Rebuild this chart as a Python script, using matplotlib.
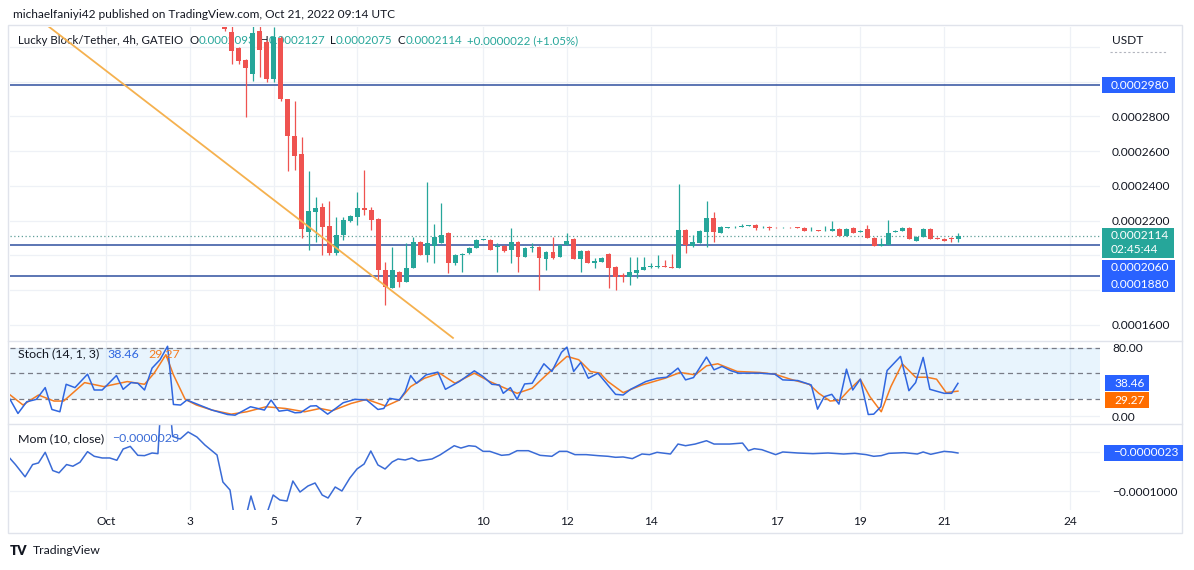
import numpy as np
import matplotlib
matplotlib.use("Agg")
import matplotlib.pyplot as plt
from matplotlib.patches import Rectangle
from matplotlib.lines import Line2D

plt.rcParams['font.family'] = ['Lato', 'DejaVu Sans']

W, H = 1194, 570
SCALE = 1e-7          # prices below are in 1e-7 USDT

# 4h candles, first one opens Oct 3 20:00 UTC (x axis = days after Oct 1 00:00)
CANDLE_START = 2 + 20 / 24
OPEN = [3340, 3285, 3192, 3123, 3042, 3290, 3227, 3013, 3250, 2898,
        2685, 2581, 2136, 2252, 2281, 2171, 2015, 2119, 2200, 2223,
        2275, 2263, 2211, 1917, 1813, 1906, 1848, 1929, 2079, 2004,
        2056, 2073, 2131, 1958, 2004, 2015, 2044, 2090, 2090, 2050,
        2056, 2033, 2079, 1992, 2044, 2050, 1981, 2021, 1992, 2061,
        2096, 1981, 2027, 1958, 1963, 2010, 1934, 1888, 1877, 1900,
        1917, 1932, 1934, 1940, 1934, 1929, 2148, 2056, 2073, 2136,
        2217, 2131, 2160, 2162, 2165, 2171, 2177, 2163, 2165, 2160,
        2159, 2160, 2163, 2160, 2145, 2145, 2145, 2142, 2154, 2113,
        2160, 2136, 2154, 2102, 2056, 2061, 2136, 2142, 2160, 2085,
        2108, 2154, 2102, 2096, 2100, 2093]
HIGH = [3380, 3330, 3200, 3130, 3320, 3330, 3240, 3314, 3260, 2900,
        2887, 2679, 2483, 2333, 2304, 2310, 2223, 2223, 2235, 2367,
        2494, 2281, 2215, 1963, 2050, 1910, 2073, 2108, 2085, 2425,
        2183, 2304, 2136, 2010, 2015, 2050, 2095, 2095, 2095, 2073,
        2060, 2160, 2085, 2050, 2073, 2055, 2025, 2108, 2065, 2131,
        2100, 2030, 2030, 1986, 1990, 2012, 1936, 1900, 1992, 1992,
        1992, 1958, 2004, 1975, 2010, 2413, 2150, 2119, 2145, 2315,
        2252, 2170, 2165, 2167, 2183, 2176, 2180, 2167, 2167, 2162,
        2162, 2162, 2165, 2162, 2165, 2147, 2171, 2200, 2157, 2157,
        2163, 2145, 2177, 2105, 2102, 2206, 2145, 2163, 2163, 2110,
        2157, 2157, 2105, 2100, 2103, 2127]
LOW = [3290, 3100, 3100, 2794, 3002, 3025, 2996, 3000, 2890, 2483,
       2494, 2102, 2033, 2079, 2004, 2004, 2004, 2090, 2190, 2177,
       2235, 2148, 1859, 1715, 1810, 1819, 1845, 1925, 2000, 1963,
       1958, 2070, 1900, 1946, 1906, 2010, 2040, 2088, 2030, 1906,
       2020, 1958, 1906, 1988, 2021, 1802, 1917, 1980, 1988, 2058,
       1978, 1906, 1955, 1929, 1960, 1813, 1802, 1848, 1831, 1871,
       1915, 1929, 1930, 1932, 1927, 1927, 2015, 2050, 2070, 2050,
       2079, 2128, 2158, 2160, 2163, 2168, 2148, 2160, 2148, 2157,
       2157, 2156, 2155, 2140, 2142, 2140, 2142, 2140, 2110, 2110,
       2128, 2134, 2100, 2053, 2053, 2058, 2134, 2140, 2093, 2082,
       2105, 2093, 2093, 2080, 2078, 2075]
CLOSE = [3302, 3175, 3117, 3077, 3279, 3181, 3013, 3256, 2898, 2685,
         2569, 2154, 2258, 2275, 2165, 2015, 2119, 2206, 2225, 2275,
         2263, 2206, 1917, 1819, 1917, 1848, 1929, 2079, 2004, 2073,
         2108, 2119, 1958, 2004, 2010, 2044, 2090, 2092, 2033, 2056,
         2027, 2079, 1992, 2044, 2050, 1986, 2021, 1986, 2061, 2085,
         1981, 2027, 1958, 1969, 1986, 1929, 1877, 1877, 1906, 1917,
         1934, 1936, 1940, 1934, 1929, 2148, 2061, 2079, 2142, 2217,
         2136, 2165, 2162, 2165, 2171, 2173, 2160, 2165, 2158, 2159,
         2160, 2158, 2158, 2142, 2148, 2143, 2148, 2154, 2113, 2154,
         2131, 2142, 2102, 2056, 2067, 2131, 2142, 2160, 2096, 2108,
         2154, 2096, 2096, 2085, 2092, 2114]

LEVELS = [2980, 2060, 1880]            # horizontal lines
TREND_T = [-1.38, 8.28]                # trend line anchors (days, price)
TREND_P = [3319, 1525]

# Stoch (14, 1, 3): %K and %D
K_T = [-2.37, -2.10, -1.89, -1.66, -1.45, -1.29, -1.10, -0.95, -0.74, -0.44,
       -0.28, -0.09, 0.25, 0.41, 0.60, 0.76, 0.92, 1.10, 1.29, 1.47,
       1.61, 1.78, 1.93, 2.53, 2.90, 3.08, 3.45, 3.78, 3.94, 4.13,
       4.33, 4.51, 4.65, 4.88, 5.02, 5.29, 5.48, 5.66, 5.94, 6.22,
       6.49, 6.63, 6.77, 7.00, 7.14, 7.27, 7.41, 7.64, 7.92, 8.10,
       8.43, 8.79, 9.00, 9.21, 9.39, 9.48, 9.65, 9.81, 9.99, 10.17,
       10.45, 10.64, 10.87, 11.00, 11.16, 11.33, 11.51, 11.74, 12.16, 12.34,
       12.52, 12.88, 13.15, 13.38, 13.65, 13.83, 14.02, 14.33, 14.51, 14.70,
       14.92, 15.10, 15.60, 15.96, 16.15, 16.51, 16.83, 16.98, 17.14, 17.32,
       17.49, 17.67, 17.82, 18.00, 18.19, 18.32, 18.49, 18.64, 18.96, 19.16,
       19.32, 19.50, 19.66, 20.00, 20.18, 20.33]
K_V = [26.7, 3.0, 16.8, 19.6, 33.4, 7.7, 5.0, 37.3, 33.4, 49.2,
       30.6, 30.6, 47.6, 31.4, 39.3, 38.5, 30.6, 56.3, 66.2, 82.0,
       13.6, 12.9, 18.8, 7.0, 1.8, 1.0, 10.9, 7.0, 18.8, 5.7,
       7.0, 3.8, 4.2, 11.7, 12.1, 2.2, 8.9, 15.6, 19.6, 18.8,
       7.7, 8.9, 20.8, 18.8, 28.7, 47.6, 38.5, 48.4, 51.6, 31.4,
       40.5, 53.1, 46.4, 37.3, 36.5, 26.7, 33.4, 19.6, 37.7, 38.5,
       61.4, 52.4, 74.9, 81.0, 52.4, 63.0, 44.4, 50.4, 25.5, 24.7,
       31.4, 40.5, 44.4, 45.6, 56.3, 42.5, 45.2, 69.3, 54.3, 58.3,
       53.1, 50.4, 50.4, 49.2, 42.5, 41.7, 36.5, 8.1, 22.7, 25.5,
       14.0, 55.1, 30.6, 43.3, 1.8, 2.2, 10.9, 53.5, 70.1, 29.8,
       39.3, 68.9, 31.4, 26.7, 26.7, 38.46]
D_T = [-2.37, -1.98, -1.61, -1.24, -1.01, -0.51, -0.05, 0.51, 0.92, 1.15,
       1.43, 1.61, 1.89, 2.16, 2.53, 2.99, 3.36, 3.82, 4.28, 4.74,
       5.11, 5.39, 5.85, 6.22, 6.68, 7.00, 7.27, 7.60, 7.96, 8.33,
       8.79, 9.16, 9.53, 9.81, 10.17, 10.64, 11.00, 11.28, 11.56, 11.79,
       11.98, 12.34, 12.79, 13.34, 13.70, 14.06, 14.33, 14.60, 15.06, 15.60,
       15.96, 16.33, 16.78, 17.01, 17.28, 17.51, 17.73, 18.00, 18.23, 18.50,
       18.73, 19.00, 19.32, 19.59, 19.82, 20.05, 20.33]
D_V = [28.0, 13.0, 24.7, 17.6, 17.6, 39.3, 34.6, 40.5, 37.3, 50.4,
       72.1, 48.4, 19.6, 12.9, 7.0, 2.2, 5.0, 10.9, 8.9, 5.0,
       8.9, 6.1, 14.8, 19.6, 11.7, 18.8, 34.6, 44.4, 50.4, 38.5,
       50.4, 40.5, 32.6, 26.7, 32.6, 54.3, 70.1, 66.2, 52.4, 50.4,
       40.5, 27.5, 36.5, 44.4, 51.2, 48.4, 59.0, 61.4, 52.4, 51.2,
       49.2, 43.3, 37.3, 26.7, 17.6, 18.8, 30.6, 43.3, 22.7, 5.0,
       34.6, 61.4, 45.6, 45.6, 43.3, 27.5, 29.27]

# Mom (10, close), 1e-7 USDT; values beyond the panel are estimates
M_T = [-2.37, -2.16, -1.93, -1.75, -1.61, -1.45, -1.27, -1.12, -0.94, -0.79,
       -0.62, -0.44, -0.28, -0.09, 0.09, 0.26, 0.41, 0.58, 0.76, 0.92,
       1.10, 1.24, 1.33, 1.50, 1.59, 1.77, 1.96, 2.17, 2.36, 2.65,
       2.79, 2.96, 3.17, 3.33, 3.46, 3.62, 3.80, 3.99, 4.15, 4.32,
       4.46, 4.63, 4.82, 4.99, 5.16, 5.30, 5.47, 5.63, 5.82, 5.99,
       6.16, 6.32, 6.49, 6.66, 6.83, 6.97, 7.14, 7.30, 7.45, 7.78,
       7.97, 8.31, 8.47, 8.66, 8.82, 9.00, 9.16, 9.44, 9.62, 9.81,
       10.08, 10.36, 10.64, 10.82, 11.00, 11.19, 11.46, 11.74, 11.98, 12.16,
       12.34, 12.56, 12.79, 12.97, 13.15, 13.47, 13.65, 13.83, 14.06, 14.33,
       14.51, 14.88, 15.19, 15.33, 15.47, 15.65, 15.98, 16.15, 16.51, 16.87,
       17.23, 17.60, 17.87, 18.14, 18.32, 18.50, 18.68, 19.05, 19.36, 19.50,
       19.68, 20.00, 20.18, 20.33]
M_V = [-65, -320, -635, -320, -278, -6, -474, -533, -320, -363,
       -261, 11, -108, -151, -151, -210, 79, 147, -83, -91,
       -23, -40, 1600, 1500, 402, 337, 517, 388, 183, -74,
       -768, -974, -2400, -1700, -1128, -1700, -1700, -1103, -1231, -1257,
       -743, -1026, -871, -794, -1103, -1180, -897, -1000, -666, -434,
       -306, 28, -331, -434, -254, -177, -203, -152, -229, -177,
       -74, 164, 104, 164, 147, 19, 19, -83, -65, 36,
       36, -83, -108, 19, 19, -65, -65, -91, -108, -134,
       -125, -168, -49, -65, -6, -49, 207, 164, 207, 292,
       207, 207, 232, 37, 88, 62, -65, 3, -23, -40,
       -23, -49, -32, -65, -108, -91, -32, -15, -49, 3,
       -57, 19, 3, -23]

TICK_T = [0, 2, 4, 6, 9, 11, 13, 16, 18, 20, 23]
TICK_LABELS = ['Oct', '3', '5', '7', '10', '12', '14', '17', '19', '21', '24']
PRICE_TICKS = [1600, 1800, 2000, 2200, 2400, 2600, 2800, 3000, 3200]
PRICE_SHOWN = [1600, 2200, 2400, 2600, 2800]

UP, DOWN = '#26a69a', '#ef5350'
TXT = '#131722'
GRID = '#eef1f6'
BORDER = '#e0e3eb'
TAG_BLUE = '#2962ff'
K_COL, D_COL = '#2f66e0', '#f57c20'
FS = 8.6

fig = plt.figure(figsize=(W / 100, H / 100), dpi=100)
fig.patch.set_facecolor('white')


def rect(x0, y0, x1, y1):
    return [x0 / W, 1 - y1 / H, (x1 - x0) / W, (y1 - y0) / H]


ax = fig.add_axes(rect(10, 27, 1100, 340))
ax_s = fig.add_axes(rect(10, 341, 1100, 423))
ax_m = fig.add_axes(rect(10, 424, 1100, 510))

for a in (ax, ax_s, ax_m):
    a.set_xlim(-2.29, 23.72)
    for sp in a.spines.values():
        sp.set_visible(False)
    a.set_xticks(TICK_T)
    a.grid(True, color=GRID, lw=0.9, zorder=0)
    a.set_axisbelow(True)
    a.yaxis.tick_right()
    a.tick_params(axis='y', length=0, pad=8.6, labelsize=FS, labelcolor=TXT)
    a.tick_params(axis='x', length=0, pad=4, labelsize=FS, labelcolor=TXT)
ax.set_xticklabels([])
ax_s.set_xticklabels([])
ax_m.set_xticklabels(TICK_LABELS)

# ---- price panel
ax.set_ylim(1513 * SCALE, 3314 * SCALE)
ax.set_yticks([p * SCALE for p in PRICE_TICKS])
ax.set_yticklabels([f"{p * SCALE:.7f}" if p in PRICE_SHOWN else '' for p in PRICE_TICKS])

t = CANDLE_START + np.arange(len(CLOSE)) / 6
o, h, l, c = [np.array(v) * SCALE for v in (OPEN, HIGH, LOW, CLOSE)]
cols = np.where(c >= o, UP, DOWN)
ax.vlines(t, l, h, colors=cols, lw=0.9, zorder=3)
ax.bar(t, np.maximum(np.abs(c - o), 0.7 * SCALE), bottom=np.minimum(o, c),
       width=0.7 / 6, color=cols, linewidth=0, zorder=4)

for lv in LEVELS:
    ax.axhline(lv * SCALE, color='#2f4f9f', lw=1.1, zorder=2)
ax.axhline(c[-1], color='#5f9e98', lw=0.9, ls=(0, (1, 2)), zorder=2)
ax.plot(TREND_T, np.array(TREND_P) * SCALE, color='#f5b14f', lw=1.3, zorder=5)

# ---- stoch panel
ax_s.set_ylim(-8.2, 88.2)
ax_s.set_yticks([0, 80])
ax_s.set_yticklabels(['0.00', '80.00'])
ax_s.axhspan(20, 80, color='#2196f3', alpha=0.1, lw=0, zorder=1)
for lv in (80, 50, 20):
    ax_s.axhline(lv, color='#787b86', lw=0.9, ls=(0, (4, 3)), zorder=2)
ax_s.plot(D_T, D_V, color=D_COL, lw=1.1, zorder=3)
ax_s.plot(K_T, K_V, color=K_COL, lw=1.1, zorder=4)

# ---- momentum panel
ax_m.set_ylim(-1488 * SCALE, 722 * SCALE)
ax_m.set_yticks([-1000 * SCALE, 0])
ax_m.set_yticklabels(['\u22120.0001000', ''])
ax_m.plot(M_T, np.array(M_V) * SCALE, color='#3a6bd6', lw=1.1, zorder=3)

renderer = fig.canvas.get_renderer()


def signed(v, digits=7):
    return ('\u2212' if v < 0 else '+') + f"{abs(v):.{digits}f}"


def pieces(x, y, parts, size, holder=None):
    for s, col, gap in parts:
        if holder is None:
            txt = fig.text(x / W, 1 - y / H, s, color=col, fontsize=size, va='center')
        else:
            txt = holder.text(x / W, 1 - y / H, s, color=col, fontsize=size, va='center',
                              transform=fig.transFigure, zorder=1, clip_on=False)
        x += txt.get_window_extent(renderer).width + gap


def tag(a, value, lines, fc, dy=0, x0=1102, min_w=0):
    yc = H - a.transData.transform((0, value))[1] + dy
    widths = []
    for i, s in enumerate(lines):
        txt = fig.text((x0 + 9) / W, 1 - (yc + i * 14) / H, s, color='white',
                       fontsize=FS, va='center', zorder=6)
        widths.append(txt.get_window_extent(renderer).width)
    w = max(max(widths) + 14, min_w)
    hgt = 16 + (len(lines) - 1) * 14
    fig.patches.append(Rectangle((x0 / W, 1 - (yc - 8 + hgt) / H), w / W, hgt / H,
                                 transform=fig.transFigure, facecolor=fc,
                                 edgecolor='none', zorder=5))


# price-scale tags
tag(ax, LEVELS[0] * SCALE, [f"{LEVELS[0] * SCALE:.7f}"], TAG_BLUE, min_w=70)
tag(ax, c[-1], [f"{c[-1]:.7f}", '02:45:44'], UP, min_w=70)
tag(ax, LEVELS[1] * SCALE, [f"{LEVELS[1] * SCALE:.7f}"], TAG_BLUE, dy=23, min_w=70)
tag(ax, LEVELS[2] * SCALE, [f"{LEVELS[2] * SCALE:.7f}"], TAG_BLUE, dy=8, min_w=70)
tag(ax_s, K_V[-1], [f"{K_V[-1]:.2f}"], TAG_BLUE, x0=1105)
tag(ax_s, D_V[-1], [f"{D_V[-1]:.2f}"], '#ff6d00', dy=9, x0=1105)
tag(ax_m, M_V[-1] * SCALE, [signed(M_V[-1] * SCALE)], TAG_BLUE, x0=1104)

# legends
chg = CLOSE[-1] - CLOSE[-2]
pct = chg / CLOSE[-2] * 100
pieces(18, 41, [('Lucky Block/Tether, 4h, GATEIO', TXT, 6),
                ('O', TXT, 0), (f"{o[-1]:.7f}", UP, 5),
                ('H', TXT, 0), (f"{h[-1]:.7f}", UP, 5),
                ('L', TXT, 0), (f"{l[-1]:.7f}", UP, 5),
                ('C', TXT, 0), (f"{c[-1]:.7f}", UP, 5),
                (f"{signed(chg * SCALE)} ({signed(pct, 2)}%)", UP, 0)], 8.3, holder=ax)
pieces(18, 354, [('Stoch (14, 1, 3)', TXT, 8), (f"{K_V[-1]:.2f}", K_COL, 9),
                 (f"{D_V[-1]:.2f}", D_COL, 0)], 8.9)
pieces(18, 439, [('Mom (10, close)', TXT, 8), (signed(M_V[-1] * SCALE), '#3a6bd6', 0)], 8.9)

# header, currency, frame, footer
fig.text(13 / W, 1 - 14 / H, 'michaelfaniyi42 published on TradingView.com, Oct 21, 2022 09:14 UTC',
         fontsize=8.6, color=TXT, va='center')
fig.text(1112 / W, 1 - 41 / H, 'USDT', fontsize=FS, color=TXT, va='center')
fig.lines.append(Line2D([1110 / W, 1166 / W], [1 - 52 / H] * 2, transform=fig.transFigure,
                        color='#b2b5be', lw=0.8, ls=(0, (2, 2))))
fig.patches.append(Rectangle((8 / W, 1 - 533 / H), 1174 / W, 508 / H, transform=fig.transFigure,
                             fill=False, edgecolor=BORDER, lw=1))
for yy in (340.5, 423.5):
    fig.lines.append(Line2D([8 / W, 1182 / W], [1 - yy / H] * 2, transform=fig.transFigure,
                            color=BORDER, lw=1))
fig.text(10 / W, 1 - 551 / H, 'TV', fontsize=9.5, fontweight='heavy', color=TXT, va='center')
fig.text(33 / W, 1 - 551 / H, 'TradingView', fontsize=8.8, color=TXT, va='center')

fig.savefig('out.png', dpi=100, facecolor='white')
